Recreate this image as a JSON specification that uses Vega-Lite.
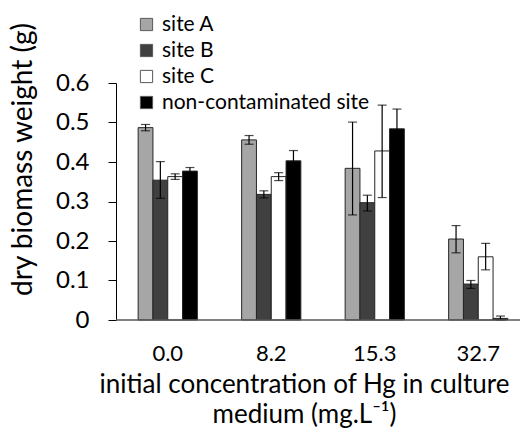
{
  "$schema": "https://vega.github.io/schema/vega-lite/v6.json",
  "autosize": "none",
  "padding": {"left": 116, "top": 83, "right": 7, "bottom": 110},
  "width": 404,
  "height": 237,
  "config": {
    "font": "Lato",
    "view": {"stroke": null},
    "axis": {"grid": false, "labelFont": "Lato", "titleFont": "Lato", "titleFontWeight": "normal", "labelColor": "#000", "titleColor": "#000"},
    "legend": {"labelFont": "Lato"}
  },
  "data": {
    "values": [
      {"conc": "0.0", "site": "site A", "mean": 0.487, "lo": 0.479, "hi": 0.495},
      {"conc": "0.0", "site": "site B", "mean": 0.354, "lo": 0.308, "hi": 0.401},
      {"conc": "0.0", "site": "site C", "mean": 0.363, "lo": 0.356, "hi": 0.370},
      {"conc": "0.0", "site": "non-contaminated site", "mean": 0.377, "lo": 0.368, "hi": 0.386},
      {"conc": "8.2", "site": "site A", "mean": 0.456, "lo": 0.445, "hi": 0.467},
      {"conc": "8.2", "site": "site B", "mean": 0.318, "lo": 0.309, "hi": 0.327},
      {"conc": "8.2", "site": "site C", "mean": 0.363, "lo": 0.353, "hi": 0.373},
      {"conc": "8.2", "site": "non-contaminated site", "mean": 0.403, "lo": 0.377, "hi": 0.429},
      {"conc": "15.3", "site": "site A", "mean": 0.384, "lo": 0.266, "hi": 0.501},
      {"conc": "15.3", "site": "site B", "mean": 0.297, "lo": 0.276, "hi": 0.316},
      {"conc": "15.3", "site": "site C", "mean": 0.428, "lo": 0.310, "hi": 0.544},
      {"conc": "15.3", "site": "non-contaminated site", "mean": 0.484, "lo": 0.434, "hi": 0.534},
      {"conc": "32.7", "site": "site A", "mean": 0.205, "lo": 0.170, "hi": 0.239},
      {"conc": "32.7", "site": "site B", "mean": 0.091, "lo": 0.080, "hi": 0.100},
      {"conc": "32.7", "site": "site C", "mean": 0.160, "lo": 0.127, "hi": 0.194},
      {"conc": "32.7", "site": "non-contaminated site", "mean": 0.004, "lo": 0.0, "hi": 0.010}
    ]
  },
  "encoding": {
    "x": {
      "field": "conc", "type": "ordinal", "sort": ["0.0", "8.2", "15.3", "32.7"],
      "scale": {"paddingInner": 0.428, "paddingOuter": 0.214, "range": [0, 414]},
      "axis": {
        "domain": false, "ticks": false, "labelAngle": 0, "labelFontSize": 22, "labelPadding": 23,
        "title": ["initial concentration of Hg in culture", "medium (mg.L⁻¹)"],
        "titleFontSize": 26, "titleLineHeight": 30, "titleX": 188, "titleY": 72, "titleBaseline": "alphabetic", "titleAlign": "center"
      }
    },
    "xOffset": {"field": "site", "type": "nominal", "sort": ["site A", "site B", "site C", "non-contaminated site"], "scale": {"paddingInner": 0, "paddingOuter": 0}},
    "y": {
      "field": "mean", "type": "quantitative",
      "scale": {"domain": [0, 0.6], "nice": false, "zero": true},
      "axis": {
        "values": [0, 0.1, 0.2, 0.3, 0.4, 0.5, 0.6], "tickCount": 7, "labelOverlap": false, "labelFlush": false,
        "labelExpr": "datum.value == 0 ? '0' : format(datum.value, '.1f')",
        "domainColor": "#000", "tickColor": "#000", "tickSize": 8, "labelPadding": 19, "labelFontSize": 24,
        "title": "dry biomass weight (g)", "titleFontSize": 28, "titleAngle": -90,
        "titleX": -93, "titleY": 76, "titleAlign": "center", "titleBaseline": "middle"
      }
    }
  },
  "layer": [
    {
      "mark": {"type": "bar", "stroke": "#262626", "strokeWidth": 1},
      "encoding": {
        "color": {
          "field": "site", "type": "nominal",
          "sort": ["site A", "site B", "site C", "non-contaminated site"],
          "scale": {"domain": ["site A", "site B", "site C", "non-contaminated site"], "range": ["#a6a6a6", "#404040", "#ffffff", "#000000"]},
          "legend": {
            "title": null, "orient": "none", "legendX": 20, "legendY": -69,
            "symbolType": "square", "symbolSize": 150, "symbolStrokeColor": "#595959", "symbolStrokeWidth": 1,
            "symbolOpacity": 1, "labelFontSize": 21, "labelOffset": 5, "rowPadding": 4, "labelLimit": 400
          }
        }
      }
    },
    {
      "mark": {"type": "rule", "color": "#000", "strokeWidth": 1.2},
      "encoding": {
        "y": {"field": "lo", "type": "quantitative"},
        "y2": {"field": "hi"}
      }
    },
    {
      "mark": {"type": "tick", "color": "#000", "size": 9, "thickness": 1.2, "orient": "horizontal"},
      "encoding": {"y": {"field": "lo", "type": "quantitative"}}
    },
    {
      "mark": {"type": "tick", "color": "#000", "size": 9, "thickness": 1.2, "orient": "horizontal"},
      "encoding": {"y": {"field": "hi", "type": "quantitative"}}
    },
    {
      "data": {"values": [{"zero": 0}]},
      "mark": {"type": "rule", "color": "#595959", "strokeWidth": 1.6},
      "encoding": {"y": {"field": "zero", "type": "quantitative"}, "x": null, "xOffset": null}
    }
  ]
}
